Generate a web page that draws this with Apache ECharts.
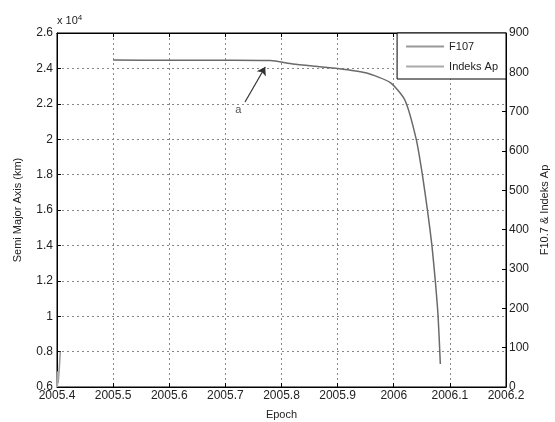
<!DOCTYPE html>
<html><head><meta charset="utf-8">
<script src="https://cdn.jsdelivr.net/npm/echarts@6/dist/echarts.min.js"></script>
<style>html,body{margin:0;padding:0;background:#fff}#c{width:555px;height:422px}</style>
</head><body><div id="c"></div>
<script>
// Semi-major axis (km) vs epoch (decimal year)
const smaEpoch = [2005.5, 2005.6, 2005.7, 2005.78, 2005.82, 2005.86, 2005.9, 2005.95, 2005.994, 2006.02, 2006.04, 2006.051, 2006.06, 2006.068, 2006.074, 2006.079, 2006.083];
const smaKm    = [24470, 24465, 24460, 24440, 24250, 24120, 24000, 23750, 23200, 22200, 20000, 18000, 16000, 14000, 12000, 10000, 7300];
// F10.7 and Ap index (right axis)
const f107Epoch = [2005.402, 2005.404, 2005.405, 2005.406];
const f107Val   = [10, 45, 70, 90];
const apEpoch   = [2005.400, 2005.401, 2005.402];
const apVal     = [0, 20, 40];
// axis ticks
const xTicks = [2005.4, 2005.5, 2005.6, 2005.7, 2005.8, 2005.9, 2006.0, 2006.1, 2006.2];
// annotation arrow (start -> end) and label
const arrowFrom = [2005.735, 22100];
const arrowTo   = [2005.771, 24080];
const noteAt    = [2005.723, 21650];
const noteText  = 'a';

const font = 'Liberation Sans';
const chart = echarts.init(document.getElementById('c'));
const zip = (a, b) => a.map((v, i) => [v, b[i]]);
const dotted = {show: true, lineStyle: {color: '#888', type: [2, 3], width: 1}};
chart.setOption({
  animation: false,
  grid: {left: 57, right: 49, top: 33, bottom: 35, show: true, borderColor: '#000', borderWidth: 1,
    backgroundColor: '#fff', containLabel: false, outerBoundsMode: 'none'},
  legend: {
    right: 49, top: 33, orient: 'vertical', itemWidth: 38, itemHeight: 2, itemGap: 9,
    backgroundColor: '#fff', borderColor: '#000', borderWidth: 1, padding: [8, 8, 7, 9],
    textStyle: {fontFamily: font, fontSize: 11, color: '#222'},
    data: [{name: 'F107', icon: 'rect'}, {name: 'Indeks Ap', icon: 'rect'}]
  },
  graphic: [{
    type: 'text', left: 57, top: 14,
    style: {text: 'x 10{s|4}', fontFamily: font, fontSize: 11, fill: '#222',
      rich: {s: {fontSize: 8, verticalAlign: 'top', padding: [0, 0, 6, 0]}}}
  }],
  xAxis: [{
    type: 'value', min: 2005.4, max: 2006.2, interval: 0.1,
    name: 'Epoch', nameLocation: 'middle', nameGap: 22,
    nameTextStyle: {fontFamily: font, fontSize: 11, color: '#222'},
    axisLine: {show: true, lineStyle: {color: '#000'}},
    axisTick: {show: true, inside: true, length: 4, lineStyle: {color: '#000'}},
    axisLabel: {fontFamily: font, fontSize: 12, color: '#222', margin: 3,
      formatter: v => String(+v.toFixed(1))},
    splitLine: dotted
  }, {
    type: 'value', position: 'top', min: 2005.4, max: 2006.2, interval: 0.1,
    axisLine: {show: true, lineStyle: {color: '#000'}},
    axisTick: {show: true, inside: true, length: 4, lineStyle: {color: '#000'}},
    axisLabel: {show: false}, splitLine: {show: false}
  }],
  yAxis: [{
    type: 'value', min: 6000, max: 26000, interval: 2000,
    name: 'Semi Major Axis (km)', nameLocation: 'middle', nameGap: 34,
    nameTextStyle: {fontFamily: font, fontSize: 11, color: '#222'},
    axisLine: {show: true, lineStyle: {color: '#000'}},
    axisTick: {show: true, inside: true, length: 4, lineStyle: {color: '#000'}},
    axisLabel: {fontFamily: font, fontSize: 12, color: '#222', margin: 4,
      formatter: v => String(+(v / 10000).toFixed(1))},
    splitLine: dotted
  }, {
    type: 'value', min: 0, max: 900, interval: 100, position: 'right',
    name: 'F10.7 & Indeks Ap', nameLocation: 'middle', nameGap: 30, nameRotate: 90,
    nameTextStyle: {fontFamily: font, fontSize: 11, color: '#222'},
    axisLine: {show: true, lineStyle: {color: '#000'}},
    axisTick: {show: true, inside: true, length: 4, lineStyle: {color: '#000'}},
    axisLabel: {fontFamily: font, fontSize: 12, color: '#222', margin: 3},
    splitLine: {show: false}
  }],
  series: [{
    name: 'SMA', type: 'line', xAxisIndex: 0, yAxisIndex: 0, showSymbol: false, smooth: 0.2,
    data: zip(smaEpoch, smaKm), lineStyle: {color: '#6a6a6a', width: 1.5}, z: 5
  }, {
    name: 'F107', type: 'line', xAxisIndex: 0, yAxisIndex: 1, showSymbol: false,
    data: zip(f107Epoch, f107Val), lineStyle: {color: '#999', width: 1.5}, itemStyle: {color: '#999'}
  }, {
    name: 'Indeks Ap', type: 'line', xAxisIndex: 0, yAxisIndex: 1, showSymbol: false,
    data: zip(apEpoch, apVal), lineStyle: {color: '#aaa', width: 2}, itemStyle: {color: '#aaa'}
  }, {
    name: 'note', type: 'lines', coordinateSystem: 'cartesian2d', xAxisIndex: 0, yAxisIndex: 0,
    symbol: ['none', 'arrow'], symbolSize: 8,
    lineStyle: {color: '#333', width: 1.2, opacity: 1},
    data: [{coords: [arrowFrom, arrowTo]}], z: 6
  }, {
    name: 'noteLabel', type: 'scatter', xAxisIndex: 0, yAxisIndex: 0, symbolSize: 0,
    data: [noteAt],
    label: {show: true, formatter: noteText, position: 'inside', fontFamily: font, fontSize: 11, color: '#222'}
  }]
});
</script></body></html>
